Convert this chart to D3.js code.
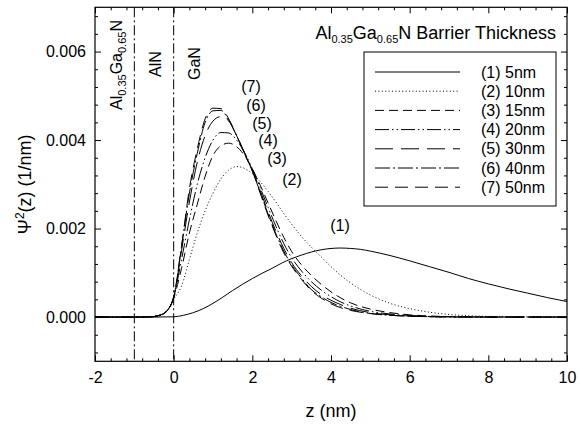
<!DOCTYPE html>
<html><head><meta charset="utf-8">
<script src="https://cdn.jsdelivr.net/npm/d3@7"></script>
<style>body{margin:0;background:#fff}svg{display:block}text{font-family:"Liberation Sans",Arial,sans-serif;fill:#000}</style>
</head><body><svg id="c" width="580" height="425"></svg>
<script>
// ---- data (z in nm, psi^2 in 1/nm) ----
const zGrid = [-2, -1, -0.6, -0.4, -0.2, 0, 0.2, 0.4, 0.6, 0.8, 1.0, 1.2, 1.4, 1.6, 1.8, 2.0, 2.2, 2.4, 2.6, 2.8, 3.0, 3.25, 3.5, 3.75, 4.0, 4.25, 4.5, 5.0, 5.5, 6.0, 6.5, 7.0, 8.0, 10.0];
const zGrid5nm = [-2, -0.5, 0, 0.25, 0.5, 0.75, 1.0, 1.25, 1.5, 1.75, 2.0, 2.25, 2.5, 2.75, 3.0, 3.25, 3.5, 3.75, 4.0, 4.25, 4.5, 4.75, 5.0, 5.5, 6.0, 6.5, 7.0, 7.5, 8.0, 8.5, 9.0, 9.5, 10];
const psi5nm = [0, 0, 0.000005, 0.00004, 0.0001, 0.00019, 0.00031, 0.00045, 0.0006, 0.00074, 0.00087, 0.00099, 0.0011, 0.00122, 0.00132, 0.0014, 0.00147, 0.00152, 0.00155, 0.00156, 0.00155, 0.00153, 0.00149, 0.00139, 0.00127, 0.00114, 0.00101, 0.00087, 0.00075, 0.00064, 0.00054, 0.00044, 0.00035];
const psi10nm = [0, 0, 0.000003, 0.00002, 0.0001, 0.0004, 0.0007, 0.0013, 0.0019, 0.0024, 0.0028, 0.00312, 0.00332, 0.0034, 0.00336, 0.00324, 0.00306, 0.00284, 0.0026, 0.00234, 0.0021, 0.00182, 0.00158, 0.00136, 0.00114, 0.00094, 0.00077, 0.0005, 0.00031, 0.00019, 0.00011, 0.00006, 0.000015, 0];
const psi15nm = [0, 0, 0.000004, 0.00003, 0.00011, 0.00043, 0.0011, 0.0019, 0.00255, 0.00318, 0.00365, 0.00387, 0.00393, 0.00385, 0.00365, 0.00335, 0.00298, 0.00258, 0.00218, 0.0018, 0.00148, 0.00118, 0.00094, 0.00074, 0.00057, 0.00043, 0.00032, 0.00018, 0.0001, 0.00005, 0.000025, 0.00001, 0.000002, 0];
const psi20nm = [0, 0, 0.000004, 0.00003, 0.00011, 0.00044, 0.0013, 0.0022, 0.003, 0.0036, 0.004, 0.00417, 0.00416, 0.004, 0.00372, 0.00335, 0.00292, 0.00248, 0.00205, 0.00166, 0.00134, 0.00104, 0.0008, 0.00061, 0.00046, 0.00034, 0.00025, 0.00013, 0.00007, 0.000035, 0.000015, 0.000006, 0, 0];
const psi30nm = [0, 0, 0.000004, 0.00003, 0.00012, 0.00045, 0.0015, 0.0026, 0.0035, 0.0041, 0.00443, 0.00453, 0.00443, 0.0041, 0.00372, 0.00332, 0.00286, 0.00238, 0.00194, 0.00155, 0.00123, 0.00093, 0.00069, 0.00051, 0.00038, 0.00028, 0.0002, 0.0001, 0.00005, 0.000025, 0.00001, 0.000004, 0, 0];
const psi40nm = [0, 0, 0.000005, 0.00003, 0.00012, 0.00045, 0.0016, 0.0028, 0.0037, 0.0044, 0.00466, 0.00467, 0.00445, 0.0041, 0.0037, 0.0033, 0.00282, 0.00233, 0.00188, 0.00149, 0.00118, 0.00088, 0.00062, 0.00046, 0.00033, 0.00024, 0.00017, 0.00008, 0.00004, 0.000018, 0.000008, 0.000003, 0, 0];
const psi50nm = [0, 0, 0.000005, 0.00003, 0.00012, 0.00045, 0.0016, 0.0029, 0.0038, 0.00448, 0.00472, 0.00471, 0.00448, 0.0041, 0.0037, 0.0033, 0.0028, 0.0023, 0.00185, 0.00145, 0.00115, 0.00085, 0.0006, 0.00043, 0.0003, 0.00021, 0.00015, 0.00008, 0.00004, 0.000018, 0.000008, 0.000003, 0, 0];
const legendLabels = ["(1) 5nm", "(2) 10nm", "(3) 15nm", "(4) 20nm", "(5) 30nm", "(6) 40nm", "(7) 50nm"];
const curveTags = ["(1)", "(2)", "(3)", "(4)", "(5)", "(6)", "(7)"];
const xTicks = [-2, 0, 2, 4, 6, 8, 10];
const yTicks = [0, 0.002, 0.004, 0.006];
const interfaces = [-1, 0];

// ---- styles ----
const dashes = [null, "1,2.4", "9,5", "14,3,1.5,3,1.5,3", "18,8", "15,3,2,3", "13,7"];
const seriesList = [
  {z: zGrid5nm, v: psi5nm}, {z: zGrid, v: psi10nm}, {z: zGrid, v: psi15nm}, {z: zGrid, v: psi20nm},
  {z: zGrid, v: psi30nm}, {z: zGrid, v: psi40nm}, {z: zGrid, v: psi50nm}
];

const svg = d3.select("#c");
const L = 95, R = 567, T = 7.3, B = 361.3;
const x = d3.scaleLinear().domain([-2, 10]).range([L, R]);
const y = d3.scaleLinear().domain([-0.001, 0.007]).range([B, T]);

const clip = svg.append("clipPath").attr("id", "pc").append("rect")
  .attr("x", L).attr("y", T).attr("width", R - L).attr("height", B - T);

// interfaces
svg.append("g").selectAll("line").data(interfaces).join("line")
  .attr("x1", d => x(d)).attr("x2", d => x(d)).attr("y1", T).attr("y2", B)
  .attr("stroke", "#000").attr("stroke-width", 1).attr("stroke-dasharray", "10,3,2,3");

// curves
const line = d3.line().x(d => x(d[0])).y(d => y(d[1])).curve(d3.curveMonotoneX);
const gC = svg.append("g").attr("clip-path", "url(#pc)");
seriesList.forEach((s, i) => {
  gC.append("path").datum(s.z.map((z, k) => [z, s.v[k]]))
    .attr("d", line).attr("fill", "none").attr("stroke", "#000").attr("stroke-width", 1)
    .attr("stroke-dasharray", dashes[i]);
});

// axes
const fmtY = d3.format(".3f");
const minorX = d3.range(-2, 10.001, 0.4).filter(v => Math.abs(v / 2 - Math.round(v / 2)) > 1e-6);
const minorY = d3.range(-0.0008, 0.00701, 0.0004).filter(v => Math.abs(v / 0.002 - Math.round(v / 0.002)) > 1e-6);
function style(g) { g.select(".domain").remove(); g.selectAll("line").attr("stroke", "#000"); g.selectAll("text").style("font-size", "16px").style("font-family", '"Liberation Sans",Arial,sans-serif'); }
svg.append("g").attr("transform", `translate(0,${B})`).call(d3.axisBottom(x).tickValues(xTicks).tickSize(-6).tickPadding(10).tickFormat(d => String(d))).call(style);
svg.append("g").attr("transform", `translate(0,${B})`).call(d3.axisBottom(x).tickValues(minorX).tickSize(-3).tickFormat("")).call(style);
svg.append("g").attr("transform", `translate(0,${T})`).call(d3.axisTop(x).tickValues(xTicks).tickSize(-6).tickFormat("")).call(style);
svg.append("g").attr("transform", `translate(0,${T})`).call(d3.axisTop(x).tickValues(minorX).tickSize(-3).tickFormat("")).call(style);
svg.append("g").attr("transform", `translate(${L},0)`).call(d3.axisLeft(y).tickValues(yTicks).tickSize(-6).tickPadding(9).tickFormat(fmtY)).call(style);
svg.append("g").attr("transform", `translate(${L},0)`).call(d3.axisLeft(y).tickValues(minorY).tickSize(-3).tickFormat("")).call(style);
svg.append("g").attr("transform", `translate(${R},0)`).call(d3.axisRight(y).tickValues(yTicks).tickSize(-6).tickFormat("")).call(style);
svg.append("g").attr("transform", `translate(${R},0)`).call(d3.axisRight(y).tickValues(minorY).tickSize(-3).tickFormat("")).call(style);

svg.append("rect").attr("x", L).attr("y", T).attr("width", R - L).attr("height", B - T)
  .attr("fill", "none").attr("stroke", "#000").attr("stroke-width", 1.2);

// axis titles
svg.append("text").attr("x", (L + R) / 2).attr("y", 417).attr("text-anchor", "middle").style("font-size", "18px").text("z (nm)");
const yt = svg.append("text").attr("transform", `translate(31,${(T + B) / 2}) rotate(-90)`).attr("text-anchor", "middle").style("font-size", "18px");
yt.append("tspan").text("Ψ");
yt.append("tspan").attr("dy", -7).style("font-size", "12px").text("2");
yt.append("tspan").attr("dy", 7).text("(z) (1/nm)");

// region labels
function sublabel(sel, parts) {
  parts.forEach(p => {
    const t = sel.append("tspan").text(p[0]);
    if (p[1] === "sub") t.attr("dy", 4).style("font-size", "11px");
    if (p[1] === "up") t.attr("dy", -4);
  });
}
const r1 = svg.append("text").attr("transform", "translate(122,110) rotate(-90)").style("font-size", "16px");
sublabel(r1, [["Al"], ["0.35", "sub"], ["Ga", "up"], ["0.65", "sub"], ["N", "up"]]);
svg.append("text").attr("transform", "translate(161,77) rotate(-90)").style("font-size", "16px").text("AlN");
svg.append("text").attr("transform", "translate(200,80) rotate(-90)").style("font-size", "16px").text("GaN");

// title
const tt = svg.append("text").attr("x", 556).attr("y", 39).attr("text-anchor", "end").style("font-size", "18px");
sublabel(tt, [["Al"], ["0.35", "sub"], ["Ga", "up"], ["0.65", "sub"], ["N Barrier Thickness", "up"]]);

// curve tags
const tagPos = [[340, 225], [292, 179], [277, 158], [268, 140], [262, 123], [256, 105], [251, 86]];
svg.append("g").selectAll("text").data(curveTags).join("text")
  .attr("x", (d, i) => tagPos[i][0]).attr("y", (d, i) => tagPos[i][1] + 5.5)
  .attr("text-anchor", "middle").style("font-size", "16px").text(d => d);

// legend
const lg = svg.append("g");
lg.append("rect").attr("x", 364).attr("y", 52).attr("width", 192).attr("height", 154)
  .attr("fill", "#fff").attr("stroke", "#000").attr("stroke-width", 1);
legendLabels.forEach((lab, i) => {
  const yy = 72 + i * 19.2;
  lg.append("line").attr("x1", 375).attr("x2", 460).attr("y1", yy).attr("y2", yy)
    .attr("stroke", "#000").attr("stroke-width", 1).attr("stroke-dasharray", dashes[i]);
  lg.append("text").attr("x", 481).attr("y", yy + 5.5).style("font-size", "16px").text(lab);
});
</script></body></html>
